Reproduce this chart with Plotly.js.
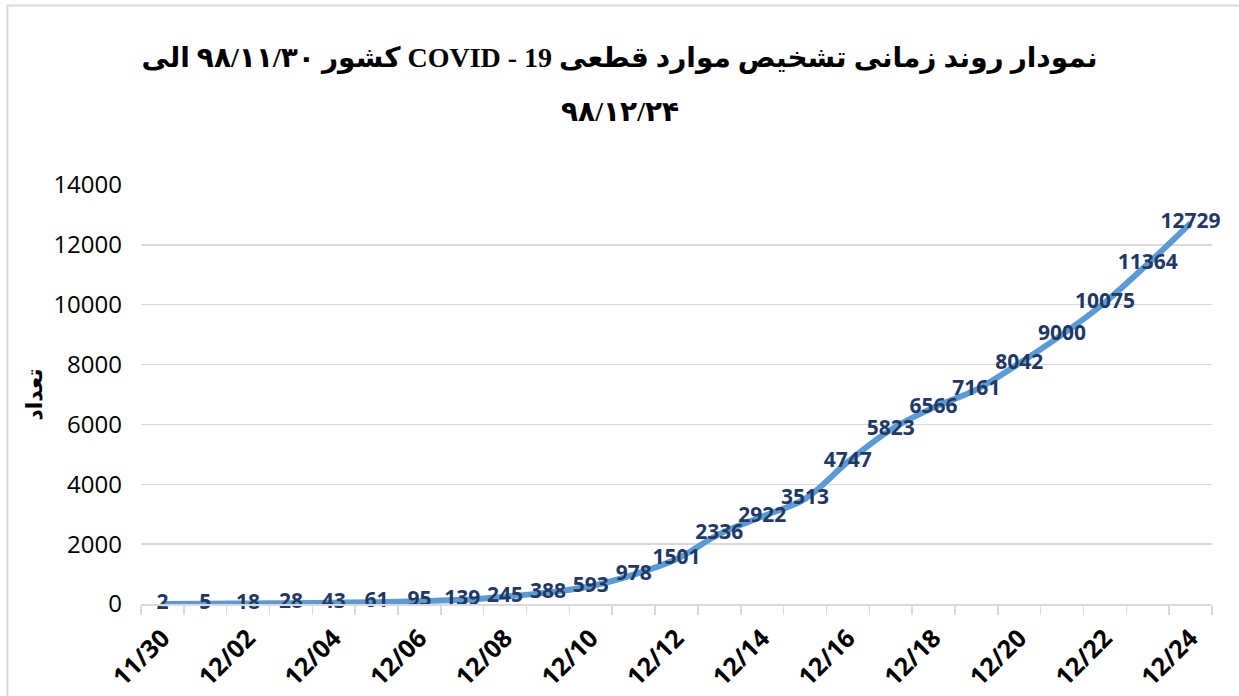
<!DOCTYPE html>
<html>
<head>
<meta charset="utf-8">
<script src="https://cdn.plot.ly/plotly-3.0.1.min.js"></script>
<style>
html,body{margin:0;padding:0;background:#fff;}
#chart{width:1239px;height:696px;}
</style>
</head>
<body>
<div id="chart"></div>
<script>
// ---- data ----
const categories = ['11/30','12/01','12/02','12/03','12/04','12/05','12/06','12/07','12/08','12/09','12/10','12/11','12/12','12/13','12/14','12/15','12/16','12/17','12/18','12/19','12/20','12/21','12/22','12/23','12/24'];
const cases = [2,5,18,28,43,61,95,139,245,388,593,978,1501,2336,2922,3513,4747,5823,6566,7161,8042,9000,10075,11364,12729];
const shownTickLabels = ['11/30','12/02','12/04','12/06','12/08','12/10','12/12','12/14','12/16','12/18','12/20','12/22','12/24'];
const yTickValues = [0,2000,4000,6000,8000,10000,12000,14000];
const titleLine1 = 'نمودار روند زمانی تشخیص موارد قطعی 19 - COVID کشور ۹۸/۱۱/۳۰ الی';
const titleLine2 = '۹۸/۱۲/۲۴';
const yTitle = 'تعداد';

// ---- layout geometry ----
const W = 1239, H = 696;
const M = {l:141, r:27, t:185, b:92};
const pw = W - M.l - M.r, ph = H - M.t - M.b;
const px = v => (v - M.l) / pw;
const py = v => (H - M.b - v) / ph;

const RLE = '\u202B', PDF = '\u202C';
const titleFont = {family: 'Liberation Serif, DejaVu Sans, serif', size: 28, color: '#000', weight: 'bold'};

const trace = {
  x: categories,
  y: cases,
  type: 'scatter',
  mode: 'lines+text',
  text: cases.map(String),
  textposition: 'middle center',
  textfont: {family: 'Open Sans, sans-serif', size: 21, color: '#1F3864', weight: 'bold'},
  line: {color: '#5B9BD5', width: 6, shape: 'spline', smoothing: 1},
  cliponaxis: false,
  hoverinfo: 'none'
};

const layout = {
  width: W, height: H,
  margin: M,
  paper_bgcolor: '#fff',
  plot_bgcolor: '#fff',
  showlegend: false,
  font: {family: 'Open Sans, sans-serif', color: '#000'},
  title: {
    text: RLE + titleLine1 + PDF,
    font: titleFont,
    x: 0.5, xref: 'container', xanchor: 'center',
    y: 1 - 57 / H, yref: 'container', yanchor: 'middle'
  },
  annotations: [{
    text: RLE + titleLine2 + PDF,
    font: titleFont,
    xref: 'paper', yref: 'paper',
    x: px(620), y: py(111),
    xanchor: 'center', yanchor: 'middle',
    showarrow: false
  }],
  xaxis: {
    type: 'category',
    range: [-0.5, categories.length - 0.5],
    tickvals: categories,
    ticktext: categories.map(c => shownTickLabels.includes(c) ? c : ''),
    tickangle: -45,
    ticks: 'outside',
    tickson: 'boundaries',
    ticklen: 9,
    tickwidth: 1.5,
    tickcolor: '#D9D9D9',
    ticklabelstandoff: 8,
    showline: true,
    linecolor: '#D9D9D9',
    linewidth: 1.5,
    showgrid: false,
    zeroline: false,
    tickfont: {family: 'Open Sans, sans-serif', size: 25, color: '#000', weight: 'bold'},
    automargin: false
  },
  yaxis: {
    range: [0, 14000],
    tickvals: yTickValues,
    ticktext: yTickValues.map(String),
    showgrid: true,
    gridcolor: '#D9D9D9',
    gridwidth: 1.5,
    zeroline: false,
    showline: false,
    ticks: '',
    ticklabelstandoff: 18,
    tickfont: {family: 'Open Sans, sans-serif', size: 24, color: '#000'},
    title: {text: yTitle, font: {family: 'DejaVu Sans, sans-serif', size: 22, color: '#000', weight: 'bold'}, standoff: 4},
    automargin: false
  },
  shapes: [{
    type: 'rect', xref: 'paper', yref: 'paper', layer: 'below',
    x0: px(7.5), x1: px(1250), y0: py(705), y1: py(5.5),
    line: {color: '#D9D9D9', width: 2}, fillcolor: 'rgba(0,0,0,0)'
  }]
};

Plotly.newPlot('chart', [trace], layout, {displayModeBar: false, staticPlot: true});
</script>
</body>
</html>
